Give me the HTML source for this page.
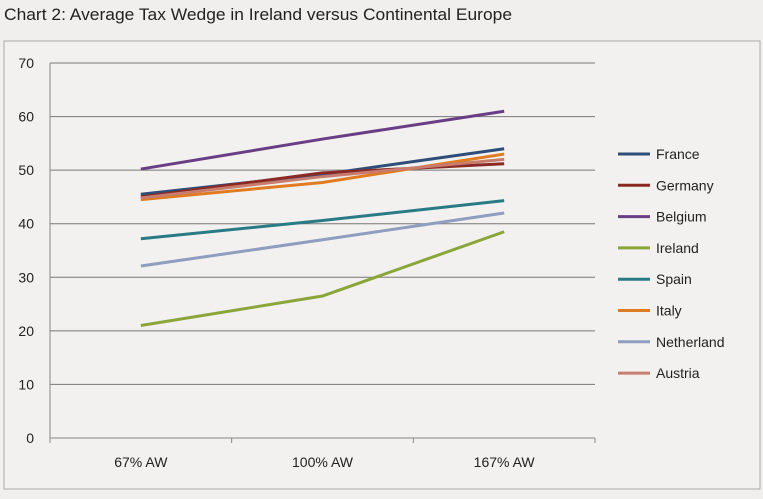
<!DOCTYPE html>
<html><head><meta charset="utf-8"><style>
body{margin:0;background:#f0efed;font-family:"Liberation Sans",sans-serif;}
svg text{font-family:"Liberation Sans",sans-serif;}
</style></head><body>
<svg width="763" height="494" xmlns="http://www.w3.org/2000/svg">
<rect x="0" y="0" width="763" height="494" fill="#f0efed"/>
<text x="4" y="20" font-size="17" textLength="508" lengthAdjust="spacingAndGlyphs" fill="#222">Chart 2: Average Tax Wedge in Ireland versus Continental Europe</text>
<rect x="4" y="41" width="756" height="448" fill="#f2f1ef" stroke="#aaa" stroke-width="1"/>
<g id="grid"></g><g id="axes"></g><g id="series"></g><g id="legend"></g>
</svg>
<script>
const categories=["67% AW","100% AW","167% AW"];
const yTicks=[0,10,20,30,40,50,60,70];
const seriesNames=["France","Germany","Belgium","Ireland","Spain","Italy","Netherland","Austria"];
const seriesColors=["#2e4d78","#8b2a24","#6a3e84","#8aa63a","#2a7a85","#e07b22","#8f9dbf","#c77c6e"];
const france=[45.5,49.2,54];
const germany=[45,49.5,51.2];
const belgium=[50.2,55.8,61];
const ireland=[21,26.5,38.5];
const spain=[37.2,40.6,44.3];
const italy=[44.5,47.7,53];
const netherland=[32.1,37,42];
const austria=[44.8,48.8,52];
const allSeries=[france,germany,belgium,ireland,spain,italy,netherland,austria];
const NS="http://www.w3.org/2000/svg";
const x0=50,x1=595,y0=438,yTop=63,yMax=70;
function y(v){return y0-(v/yMax)*(y0-yTop);}
function x(i){const b=(x1-x0)/categories.length;return x0+b*(i+0.5);}
function mk(t,a,p){const e=document.createElementNS(NS,t);for(const k in a)e.setAttribute(k,a[k]);p.appendChild(e);return e;}
const grid=document.getElementById('grid'),axes=document.getElementById('axes'),ser=document.getElementById('series'),leg=document.getElementById('legend');
yTicks.forEach(v=>{
 const l=mk('line',{x1:x0,x2:x1,y1:y(v),y2:y(v),stroke:v===0?'#888':'#777','stroke-width':1},grid);
 
 
 const t=mk('text',{x:34,y:y(v)+5,'font-size':14,'text-anchor':'end',fill:'#222'},axes);
 t.textContent=v;
 
 
});
const ax=mk('line',{x1:x0,x2:x0,y1:yTop,y2:y0,stroke:'#888'},axes);


for(let i=0;i<=categories.length;i++){
 const xx=x0+(x1-x0)/categories.length*i;
 const tk=mk('line',{x1:xx,x2:xx,y1:y0,y2:y0+5,stroke:'#888'},axes);
 
 
}
categories.forEach((c,i)=>{
 const t=mk('text',{x:x(i),y:467,'font-size':14,'text-anchor':'middle',fill:'#222'},axes);
 t.textContent=c;
 
 
});
allSeries.forEach((s,k)=>{
 const pts=s.map((v,i)=>x(i)+','+y(v)).join(' ');
 const p=mk('polyline',{points:pts,fill:'none',stroke:seriesColors[k],'stroke-width':3},ser);
 
 
 const ly=154+k*31.3;
 const g=mk('g',{},leg);
 
 
 mk('line',{x1:618,x2:650,y1:ly,y2:ly,stroke:seriesColors[k],'stroke-width':3},g);
 const t=mk('text',{x:656,y:ly+5,'font-size':14,fill:'#222'},g);
 t.textContent=seriesNames[k];
});
</script>
</body></html>
